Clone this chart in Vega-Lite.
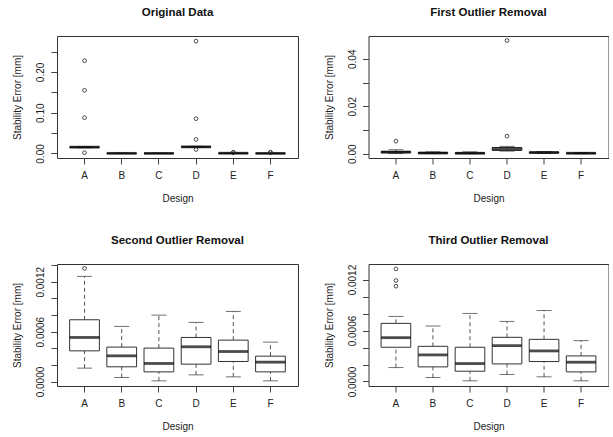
{
  "$schema": "https://vega.github.io/schema/vega-lite/v6.json",
  "background": "white",
  "padding": {"left": 12, "top": 6, "right": 0, "bottom": 0},
  "autosize": {"type": "pad"},
  "datasets": {
    "box": [
      {"panel": "p1", "design": "A", "lo": 0.014, "q1": 0.015, "med": 0.0155, "q3": 0.016, "hi": 0.017},
      {"panel": "p1", "design": "B", "lo": 0.00005, "q1": 0.0002, "med": 0.0003, "q3": 0.0005, "hi": 0.0009},
      {"panel": "p1", "design": "C", "lo": 0.00001, "q1": 0.0001, "med": 0.0002, "q3": 0.0004, "hi": 0.0008},
      {"panel": "p1", "design": "D", "lo": 0.015, "q1": 0.0157, "med": 0.0162, "q3": 0.0167, "hi": 0.0175},
      {"panel": "p1", "design": "E", "lo": 0.0001, "q1": 0.0004, "med": 0.0006, "q3": 0.0008, "hi": 0.001},
      {"panel": "p1", "design": "F", "lo": 0.00001, "q1": 0.0001, "med": 0.0002, "q3": 0.0003, "hi": 0.0005},
      {"panel": "p2", "design": "A", "lo": 0.0001, "q1": 0.0004, "med": 0.0007, "q3": 0.0009, "hi": 0.0017},
      {"panel": "p2", "design": "B", "lo": 0.00004, "q1": 0.00017, "med": 0.0003, "q3": 0.0005, "hi": 0.0008},
      {"panel": "p2", "design": "C", "lo": 0.00001, "q1": 0.0001, "med": 0.0002, "q3": 0.0004, "hi": 0.0008},
      {"panel": "p2", "design": "D", "lo": 0.0011, "q1": 0.0014, "med": 0.002, "q3": 0.0026, "hi": 0.0031},
      {"panel": "p2", "design": "E", "lo": 0.0001, "q1": 0.0003, "med": 0.0005, "q3": 0.0007, "hi": 0.0009},
      {"panel": "p2", "design": "F", "lo": 0.00001, "q1": 0.0001, "med": 0.0002, "q3": 0.0003, "hi": 0.0005},
      {"panel": "p3", "design": "A", "lo": 0.000161, "q1": 0.000369, "med": 0.00053, "q3": 0.000743, "hi": 0.001265},
      {"panel": "p3", "design": "B", "lo": 0.000048, "q1": 0.000177, "med": 0.000309, "q3": 0.000414, "hi": 0.000663},
      {"panel": "p3", "design": "C", "lo": 0.000008, "q1": 0.000116, "med": 0.000217, "q3": 0.000402, "hi": 0.000799},
      {"panel": "p3", "design": "D", "lo": 0.00008, "q1": 0.000209, "med": 0.000418, "q3": 0.00053, "hi": 0.000711},
      {"panel": "p3", "design": "E", "lo": 0.000056, "q1": 0.000241, "med": 0.000361, "q3": 0.000498, "hi": 0.000843},
      {"panel": "p3", "design": "F", "lo": 0.000008, "q1": 0.000116, "med": 0.000233, "q3": 0.000305, "hi": 0.000474},
      {"panel": "p4", "design": "A", "lo": 0.000164, "q1": 0.000403, "med": 0.000516, "q3": 0.000684, "hi": 0.000766},
      {"panel": "p4", "design": "B", "lo": 0.000047, "q1": 0.000172, "med": 0.000313, "q3": 0.000414, "hi": 0.000653},
      {"panel": "p4", "design": "C", "lo": 0.000008, "q1": 0.000121, "med": 0.000211, "q3": 0.000403, "hi": 0.000801},
      {"panel": "p4", "design": "D", "lo": 0.000082, "q1": 0.000207, "med": 0.000422, "q3": 0.00052, "hi": 0.000707},
      {"panel": "p4", "design": "E", "lo": 0.000055, "q1": 0.000235, "med": 0.00036, "q3": 0.000496, "hi": 0.000836},
      {"panel": "p4", "design": "F", "lo": 0.000008, "q1": 0.000113, "med": 0.000227, "q3": 0.000301, "hi": 0.000481}
    ],
    "out": [
      {"panel": "p1", "design": "A", "value": 0.2276},
      {"panel": "p1", "design": "A", "value": 0.155},
      {"panel": "p1", "design": "A", "value": 0.0878},
      {"panel": "p1", "design": "A", "value": 0.002},
      {"panel": "p1", "design": "D", "value": 0.2756},
      {"panel": "p1", "design": "D", "value": 0.0854},
      {"panel": "p1", "design": "D", "value": 0.0344},
      {"panel": "p1", "design": "D", "value": 0.0098},
      {"panel": "p1", "design": "E", "value": 0.0022},
      {"panel": "p1", "design": "E", "value": 0.0028},
      {"panel": "p1", "design": "F", "value": 0.0022},
      {"panel": "p1", "design": "F", "value": 0.0028},
      {"panel": "p2", "design": "A", "value": 0.0053},
      {"panel": "p2", "design": "D", "value": 0.0477},
      {"panel": "p2", "design": "D", "value": 0.0074},
      {"panel": "p3", "design": "A", "value": 0.001361},
      {"panel": "p4", "design": "A", "value": 0.001325},
      {"panel": "p4", "design": "A", "value": 0.001188},
      {"panel": "p4", "design": "A", "value": 0.001122}
    ]
  },
  "config": {
    "font": "Liberation Sans",
    "view": {"stroke": "#333", "strokeWidth": 1},
    "axis": {
      "domain": false, "grid": false, "tickColor": "#444", "tickSize": 6, "tickWidth": 1,
      "labelFont": "Liberation Sans", "labelFontSize": 10, "labelColor": "#222", "labelOverlap": false, "labelFlush": false,
      "titleFont": "Liberation Sans", "titleFontSize": 10, "titleFontWeight": "normal", "titleColor": "#222"
    },
    "axisX": {"labelAngle": 0, "labelBaseline": "alphabetic", "labelPadding": 14.3, "titleBaseline": "alphabetic", "titleY": 43},
    "axisY": {"labelAngle": -90, "labelAlign": "center", "labelBaseline": "alphabetic", "labelPadding": 7.3, "titleAngle": -90, "titleBaseline": "alphabetic", "titleX": -36.3, "titleY": 61},
    "title": {"font": "Liberation Sans", "fontSize": 11.5, "fontWeight": "bold", "color": "#111", "anchor": "middle", "baseline": "alphabetic", "offset": 17.7}
  },
  "columns": 2,
  "bounds": "flush",
  "spacing": {"row": 106, "column": 70.5},
  "concat": [
    {
      "title": "Original Data",
      "width": 241, "height": 122,
      "resolve": {"axis": {"y": "independent"}},
      "encoding": {"x": {"field": "design", "type": "nominal", "title": "Design", "scale": {"domain": ["A","B","C","D","E","F"], "paddingInner": 0.2, "paddingOuter": 0.34}}},
      "layer": [
        {"data": {"name": "box"}, "transform": [{"filter": "datum.panel == 'p1'"}], "mark": {"type": "rule", "strokeDash": [4, 3], "color": "#555"},
         "encoding": {"y": {"field": "lo", "type": "quantitative", "title": "Stability Error [mm]", "scale": {"domain": [-0.0111, 0.2882], "nice": false, "zero": false},
           "axis": {"orient": "left", "values": [0, 0.05, 0.1, 0.15, 0.2, 0.25], "labels": false}}, "y2": {"field": "q1"}}},
        {"data": {"name": "box"}, "transform": [{"filter": "datum.panel == 'p1'"}], "mark": {"type": "rule", "strokeDash": [4, 3], "color": "#555"},
         "encoding": {"y": {"field": "q3", "type": "quantitative", "title": null, "axis": {"orient": "left", "values": [0, 0.1, 0.2], "format": ".2f"}}, "y2": {"field": "hi"}}},
        {"data": {"name": "box"}, "transform": [{"filter": "datum.panel == 'p1'"}], "mark": {"type": "tick", "size": 15, "thickness": 1, "color": "#333"},
         "encoding": {"y": {"field": "lo", "type": "quantitative", "axis": null}}},
        {"data": {"name": "box"}, "transform": [{"filter": "datum.panel == 'p1'"}], "mark": {"type": "tick", "size": 15, "thickness": 1, "color": "#333"},
         "encoding": {"y": {"field": "hi", "type": "quantitative", "axis": null}}},
        {"data": {"name": "box"}, "transform": [{"filter": "datum.panel == 'p1'"}], "mark": {"type": "bar", "fill": "white", "stroke": "#333", "strokeWidth": 1},
         "encoding": {"y": {"field": "q1", "type": "quantitative", "axis": null}, "y2": {"field": "q3"}}},
        {"data": {"name": "box"}, "transform": [{"filter": "datum.panel == 'p1'"}], "mark": {"type": "tick", "size": 29.8, "thickness": 2.8, "color": "black"},
         "encoding": {"y": {"field": "med", "type": "quantitative", "axis": null}}},
        {"data": {"name": "out"}, "transform": [{"filter": "datum.panel == 'p1'"}], "mark": {"type": "point", "shape": "circle", "filled": false, "size": 14, "strokeWidth": 0.8, "color": "#222", "opacity": 1},
         "encoding": {"y": {"field": "value", "type": "quantitative", "axis": null}}}
      ]
    },
    {
      "title": "First Outlier Removal",
      "width": 240, "height": 122,
      "resolve": {"axis": {"y": "independent"}},
      "encoding": {"x": {"field": "design", "type": "nominal", "title": "Design", "scale": {"domain": ["A","B","C","D","E","F"], "paddingInner": 0.2, "paddingOuter": 0.34}}},
      "layer": [
        {"data": {"name": "box"}, "transform": [{"filter": "datum.panel == 'p2'"}], "mark": {"type": "rule", "strokeDash": [4, 3], "color": "#555"},
         "encoding": {"y": {"field": "lo", "type": "quantitative", "title": "Stability Error [mm]", "scale": {"domain": [-0.0018, 0.0496], "nice": false, "zero": false},
           "axis": {"orient": "left", "values": [0, 0.01, 0.02, 0.03, 0.04], "labels": false}}, "y2": {"field": "q1"}}},
        {"data": {"name": "box"}, "transform": [{"filter": "datum.panel == 'p2'"}], "mark": {"type": "rule", "strokeDash": [4, 3], "color": "#555"},
         "encoding": {"y": {"field": "q3", "type": "quantitative", "title": null, "axis": {"orient": "left", "values": [0, 0.02, 0.04], "format": ".2f"}}, "y2": {"field": "hi"}}},
        {"data": {"name": "box"}, "transform": [{"filter": "datum.panel == 'p2'"}], "mark": {"type": "tick", "size": 15, "thickness": 1, "color": "#333"},
         "encoding": {"y": {"field": "lo", "type": "quantitative", "axis": null}}},
        {"data": {"name": "box"}, "transform": [{"filter": "datum.panel == 'p2'"}], "mark": {"type": "tick", "size": 15, "thickness": 1, "color": "#333"},
         "encoding": {"y": {"field": "hi", "type": "quantitative", "axis": null}}},
        {"data": {"name": "box"}, "transform": [{"filter": "datum.panel == 'p2'"}], "mark": {"type": "bar", "fill": "white", "stroke": "#333", "strokeWidth": 1},
         "encoding": {"y": {"field": "q1", "type": "quantitative", "axis": null}, "y2": {"field": "q3"}}},
        {"data": {"name": "box"}, "transform": [{"filter": "datum.panel == 'p2'"}], "mark": {"type": "tick", "size": 29.6, "thickness": 2.8, "color": "black"},
         "encoding": {"y": {"field": "med", "type": "quantitative", "axis": null}}},
        {"data": {"name": "out"}, "transform": [{"filter": "datum.panel == 'p2'"}], "mark": {"type": "point", "shape": "circle", "filled": false, "size": 14, "strokeWidth": 0.8, "color": "#222", "opacity": 1},
         "encoding": {"y": {"field": "value", "type": "quantitative", "axis": null}}}
      ]
    },
    {
      "title": "Second Outlier Removal",
      "width": 241, "height": 122,
      "resolve": {"axis": {"y": "independent"}},
      "encoding": {"x": {"field": "design", "type": "nominal", "title": "Design", "scale": {"domain": ["A","B","C","D","E","F"], "paddingInner": 0.2, "paddingOuter": 0.34}}},
      "layer": [
        {"data": {"name": "box"}, "transform": [{"filter": "datum.panel == 'p3'"}], "mark": {"type": "rule", "strokeDash": [4, 3], "color": "#555"},
         "encoding": {"y": {"field": "lo", "type": "quantitative", "title": "Stability Error [mm]", "scale": {"domain": [-0.000054, 0.001414], "nice": false, "zero": false},
           "axis": {"orient": "left", "values": [0, 0.0002, 0.0004, 0.0006, 0.0008, 0.001, 0.0012, 0.0014], "labels": false}}, "y2": {"field": "q1"}}},
        {"data": {"name": "box"}, "transform": [{"filter": "datum.panel == 'p3'"}], "mark": {"type": "rule", "strokeDash": [4, 3], "color": "#555"},
         "encoding": {"y": {"field": "q3", "type": "quantitative", "title": null, "axis": {"orient": "left", "values": [0, 0.0006, 0.0012], "format": ".4f"}}, "y2": {"field": "hi"}}},
        {"data": {"name": "box"}, "transform": [{"filter": "datum.panel == 'p3'"}], "mark": {"type": "tick", "size": 15, "thickness": 1, "color": "#333"},
         "encoding": {"y": {"field": "lo", "type": "quantitative", "axis": null}}},
        {"data": {"name": "box"}, "transform": [{"filter": "datum.panel == 'p3'"}], "mark": {"type": "tick", "size": 15, "thickness": 1, "color": "#333"},
         "encoding": {"y": {"field": "hi", "type": "quantitative", "axis": null}}},
        {"data": {"name": "box"}, "transform": [{"filter": "datum.panel == 'p3'"}], "mark": {"type": "bar", "fill": "white", "stroke": "#333", "strokeWidth": 1},
         "encoding": {"y": {"field": "q1", "type": "quantitative", "axis": null}, "y2": {"field": "q3"}}},
        {"data": {"name": "box"}, "transform": [{"filter": "datum.panel == 'p3'"}], "mark": {"type": "tick", "size": 29.8, "thickness": 2.8, "color": "black"},
         "encoding": {"y": {"field": "med", "type": "quantitative", "axis": null}}},
        {"data": {"name": "out"}, "transform": [{"filter": "datum.panel == 'p3'"}], "mark": {"type": "point", "shape": "circle", "filled": false, "size": 14, "strokeWidth": 0.8, "color": "#222", "opacity": 1},
         "encoding": {"y": {"field": "value", "type": "quantitative", "axis": null}}}
      ]
    },
    {
      "title": "Third Outlier Removal",
      "width": 240, "height": 122,
      "resolve": {"axis": {"y": "independent"}},
      "encoding": {"x": {"field": "design", "type": "nominal", "title": "Design", "scale": {"domain": ["A","B","C","D","E","F"], "paddingInner": 0.2, "paddingOuter": 0.34}}},
      "layer": [
        {"data": {"name": "box"}, "transform": [{"filter": "datum.panel == 'p4'"}], "mark": {"type": "rule", "strokeDash": [4, 3], "color": "#555"},
         "encoding": {"y": {"field": "lo", "type": "quantitative", "title": "Stability Error [mm]", "scale": {"domain": [-0.000053, 0.001383], "nice": false, "zero": false},
           "axis": {"orient": "left", "values": [0, 0.0002, 0.0004, 0.0006, 0.0008, 0.001, 0.0012], "labels": false}}, "y2": {"field": "q1"}}},
        {"data": {"name": "box"}, "transform": [{"filter": "datum.panel == 'p4'"}], "mark": {"type": "rule", "strokeDash": [4, 3], "color": "#555"},
         "encoding": {"y": {"field": "q3", "type": "quantitative", "title": null, "axis": {"orient": "left", "values": [0, 0.0006, 0.0012], "format": ".4f"}}, "y2": {"field": "hi"}}},
        {"data": {"name": "box"}, "transform": [{"filter": "datum.panel == 'p4'"}], "mark": {"type": "tick", "size": 15, "thickness": 1, "color": "#333"},
         "encoding": {"y": {"field": "lo", "type": "quantitative", "axis": null}}},
        {"data": {"name": "box"}, "transform": [{"filter": "datum.panel == 'p4'"}], "mark": {"type": "tick", "size": 15, "thickness": 1, "color": "#333"},
         "encoding": {"y": {"field": "hi", "type": "quantitative", "axis": null}}},
        {"data": {"name": "box"}, "transform": [{"filter": "datum.panel == 'p4'"}], "mark": {"type": "bar", "fill": "white", "stroke": "#333", "strokeWidth": 1},
         "encoding": {"y": {"field": "q1", "type": "quantitative", "axis": null}, "y2": {"field": "q3"}}},
        {"data": {"name": "box"}, "transform": [{"filter": "datum.panel == 'p4'"}], "mark": {"type": "tick", "size": 29.6, "thickness": 2.8, "color": "black"},
         "encoding": {"y": {"field": "med", "type": "quantitative", "axis": null}}},
        {"data": {"name": "out"}, "transform": [{"filter": "datum.panel == 'p4'"}], "mark": {"type": "point", "shape": "circle", "filled": false, "size": 14, "strokeWidth": 0.8, "color": "#222", "opacity": 1},
         "encoding": {"y": {"field": "value", "type": "quantitative", "axis": null}}}
      ]
    }
  ]
}
